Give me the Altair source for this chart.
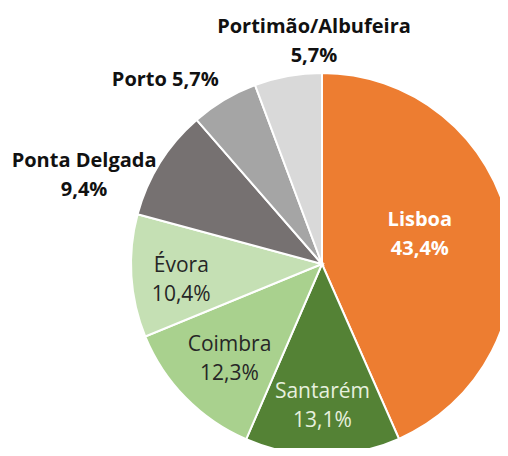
import altair as alt
import pandas as pd

cities = ["Lisboa", "Santarém", "Coimbra", "Évora", "Ponta Delgada", "Porto", "Portimão/Albufeira"]
shares = [43.4, 13.1, 12.3, 10.4, 9.4, 5.7, 5.7]
share_labels = ["43,4%", "13,1%", "12,3%", "10,4%", "9,4%", "5,7%", "5,7%"]
colors = ["#ED7D31", "#548235", "#A9D18E", "#C5E0B4", "#767171", "#A5A5A5", "#D9D9D9"]

df = pd.DataFrame({
    "city": cities,
    "share": shares,
    "pct": share_labels,
    "idx": list(range(len(cities))),
})
df["label"] = [
    f"{c} {p}" if c == "Porto" else f"{c}\n{p}" for c, p in zip(cities, share_labels)
]

CX, CY, R = 314, 256, 191
FONT = "Open Sans"

base = alt.Chart(df).encode(x=alt.value(CX), y=alt.value(CY))

pie = base.mark_arc(radius=R, stroke="white", strokeWidth=2).encode(
    theta=alt.Theta("share:Q", stack=True),
    order=alt.Order("idx:Q"),
    color=alt.Color("city:N", scale=alt.Scale(domain=cities, range=colors), legend=None),
)

angles = (
    base.transform_joinaggregate(total="sum(share)")
    .transform_window(cum="sum(share)", sort=[alt.SortField("idx")], frame=[None, 0])
    .transform_calculate(mid="(datum.cum - datum.share / 2) / datum.total * 2 * PI")
)

# per-label style: (radius, dx, dy, color, weight, size)
label_style = {
    "Lisboa": (100, 0, -23, "#FFFFFF", "bold", 20),
    "Santarém": (142, 0, -14, "#E6F0DE", "normal", 21),
    "Coimbra": (131, 1, -11, "#262626", "normal", 21),
    "Évora": (141, 0, -7, "#262626", "normal", 21),
    "Ponta Delgada": (191, -76, -2, "#111111", "bold", 20),
    "Porto": (191, -59, -20, "#111111", "bold", 20),
    "Portimão/Albufeira": (191, 26, -49, "#111111", "bold", 20),
}

layers = [pie]
for city in cities:
    r, dx, dy, col, w, fs = label_style[city]
    layers.append(
        angles.transform_filter(alt.datum.city == city)
        .mark_text(
            radius=r, dx=dx, dy=dy, color=col, fontWeight=w, font=FONT,
            fontSize=fs, lineBreak="\n", lineHeight=29, align="center", baseline="middle",
        )
        .encode(theta=alt.Theta("mid:Q", scale=None), text="label:N")
    )

chart = (
    alt.layer(*layers)
    .properties(width=492, height=440, padding=0, autosize="none")
    .configure_view(stroke=None)
)

chart.save("out.html", embed_options={"renderer": "svg", "actions": False})
